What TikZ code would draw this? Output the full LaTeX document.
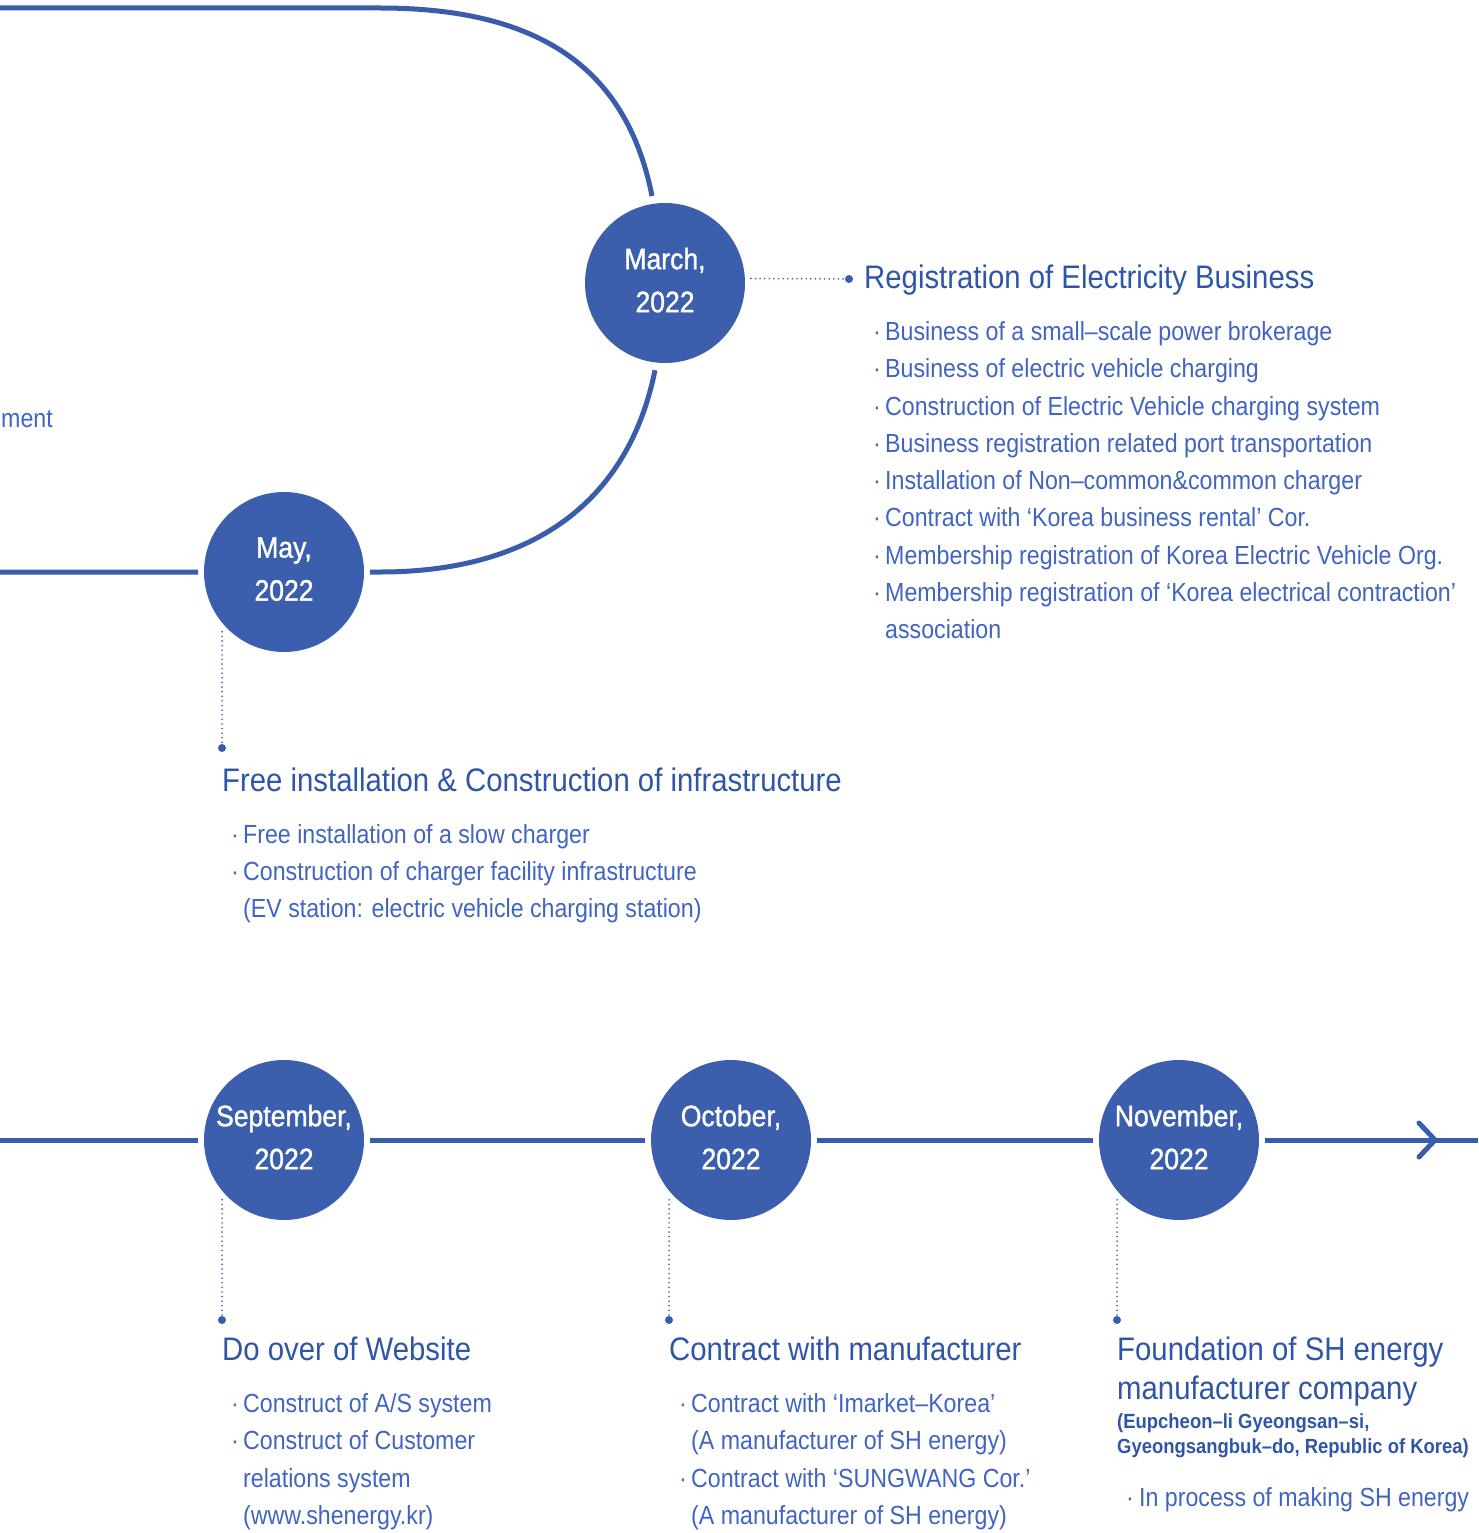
\documentclass[tikz,border=0pt]{standalone}
\usepackage{fontspec}
\setmainfont{Liberation Sans}[FakeStretch=0.9]
\newfontfamily\datefont{Liberation Sans}[FakeStretch=0.9, FakeBold=1.2]
\newfontfamily\bodyfont{Liberation Sans}[FakeStretch=0.885]
\definecolor{lineblue}{HTML}{3A5DAB}
\definecolor{circblue}{HTML}{3B5FAC}
\definecolor{headblue}{HTML}{2F56A6}
\definecolor{bodyblue}{HTML}{4064C2}
\begin{document}
\begin{tikzpicture}[x=1pt,y=-1pt,
  datec/.style={circle, fill=circblue, minimum size=160pt, inner sep=0pt, outer sep=6pt,
    text=white, align=center, font=\datefont\fontsize{29.5}{43}\selectfont},
  tl/.style={draw=lineblue, line width=5pt},
  conn/.style={draw=lineblue, line width=1.8pt, dash pattern=on 0.01pt off 4.6pt, line cap=round},
  dotm/.style={fill=lineblue},
  head/.style={anchor=base west, inner sep=0pt, text=headblue, font=\fontsize{32.6}{38}\selectfont},
  body/.style={anchor=base west, inner sep=0pt, text=bodyblue, font=\bodyfont\fontsize{26.2}{32}\selectfont},
  smallb/.style={anchor=base west, inner sep=0pt, text=headblue, font=\bfseries\fontsize{20.5}{25}\selectfont}
]
\useasboundingbox (0,0) rectangle (1478,1533);

% date circles
\node[datec] (march) at (665,283) {March,\\2022\rule[-6pt]{0pt}{0pt}};
\node[datec] (may) at (284,572) {May,\\2022\rule[-6pt]{0pt}{0pt}};
\node[datec] (sep) at (284,1140) {September,\\2022\rule[-6pt]{0pt}{0pt}};
\node[datec] (oct) at (731,1140) {October,\\2022\rule[-6pt]{0pt}{0pt}};
\node[datec] (nov) at (1179,1140) {November,\\2022\rule[-6pt]{0pt}{0pt}};

% upper loop
\coordinate (tl0) at (0,8);
\coordinate (tl1) at (380,8);
\coordinate (mtop) at (652,196);
\coordinate (mbot) at (655,370.2);
\coordinate (bl1) at (380,572);
\coordinate (ml0) at (0,572);
\draw[tl] (ml0) -- (may) -- (bl1) .. controls (532.8,572) and (628.3,501.9) .. (mbot);
\draw[tl] (mtop) .. controls (627.6,73.2) and (545.6,8) .. (tl1) -- (tl0);

% bottom timeline
\coordinate (b0) at (0,1140);
\coordinate (b1) at (1478,1140);
\coordinate (tip) at (1435,1140);
\coordinate (aw1) at (1419,1123);
\coordinate (aw2) at (1419,1157);
\draw[tl] (b0) -- (sep) -- (oct) -- (nov) -- (b1);
\draw[tl, line cap=round, line join=round] (aw1) -- (tip) -- (aw2);

% dotted leaders
\coordinate (marchd) at (849,279);
\coordinate (mayd) at (222,748);
\coordinate (sepd) at (222,1320);
\coordinate (octd) at (669,1320);
\coordinate (novd) at (1117,1320);
\draw[conn] (march.3) -- (marchd);
\draw[conn] (may.224) -- (mayd);
\draw[conn] (sep.224) -- (sepd);
\draw[conn] (oct.224) -- (octd);
\draw[conn] (nov.224) -- (novd);
\fill[dotm] (marchd) circle (4pt);
\fill[dotm] (mayd) circle (4pt);
\fill[dotm] (sepd) circle (4pt);
\fill[dotm] (octd) circle (4pt);
\fill[dotm] (novd) circle (4pt);

% word at left edge
\node[body] (ment) at (1,427.5) {ment};

% March block
\node[head] (h1) at (864,288) {Registration of Electricity Business};
\node[body] (a1) at (873,340.5) {\makebox[12pt][l]{·}Business of a small–scale power brokerage};
\node[body] (a2) at (873,377.75) {\makebox[12pt][l]{·}Business of electric vehicle charging};
\node[body] (a3) at (873,415) {\makebox[12pt][l]{·}Construction of Electric Vehicle charging system};
\node[body] (a4) at (873,452.25) {\makebox[12pt][l]{·}Business registration related port transportation};
\node[body] (a5) at (873,489.5) {\makebox[12pt][l]{·}Installation of Non–common\&common charger};
\node[body] (a6) at (873,526.75) {\makebox[12pt][l]{·}Contract with ‘Korea business rental’ Cor.};
\node[body] (a7) at (873,564) {\makebox[12pt][l]{·}Membership registration of Korea Electric Vehicle Org.};
\node[body] (a8) at (873,601.25) {\makebox[12pt][l]{·}Membership registration of ‘Korea electrical contraction’};
\node[body] (a9) at (885,638.5) {association};

% May block
\node[head] (h2) at (222,791) {Free installation \& Construction of infrastructure};
\node[body] (b1t) at (231,843.5) {\makebox[12pt][l]{·}Free installation of a slow charger};
\node[body] (b2t) at (231,880.5) {\makebox[12pt][l]{·}Construction of charger facility infrastructure};
\node[body] (b3t) at (243,917.5) {(EV station: electric vehicle charging station)};

% September block
\node[head] (h3) at (222,1360) {Do over of Website};
\node[body] (c1) at (231,1412.5) {\makebox[12pt][l]{·}Construct of A/S system};
\node[body] (c2) at (231,1449.5) {\makebox[12pt][l]{·}Construct of Customer};
\node[body] (c3) at (243,1487) {relations system};
\node[body] (c4) at (243,1524.5) {(www.shenergy.kr)};

% October block
\node[head] (h4) at (669,1360) {Contract with manufacturer};
\node[body] (d1) at (679,1412.5) {\makebox[12pt][l]{·}Contract with ‘Imarket–Korea’};
\node[body] (d2) at (691,1449.5) {(A manufacturer of SH energy)};
\node[body] (d3) at (679,1487) {\makebox[12pt][l]{·}Contract with ‘SUNGWANG Cor.’};
\node[body] (d4) at (691,1524.5) {(A manufacturer of SH energy)};

% November block
\node[head] (h5) at (1117,1360) {Foundation of SH energy};
\node[head] (h5b) at (1117,1399) {manufacturer company};
\node[smallb] (e1) at (1117,1428.5) {(Eupcheon–li Gyeongsan–si,};
\node[smallb] (e2) at (1117,1453.5) {Gyeongsangbuk–do, Republic of Korea)};
\node[body] (e3) at (1126,1506.5) {\makebox[13pt][l]{·}In process of making SH energy};
\end{tikzpicture}
\end{document}
